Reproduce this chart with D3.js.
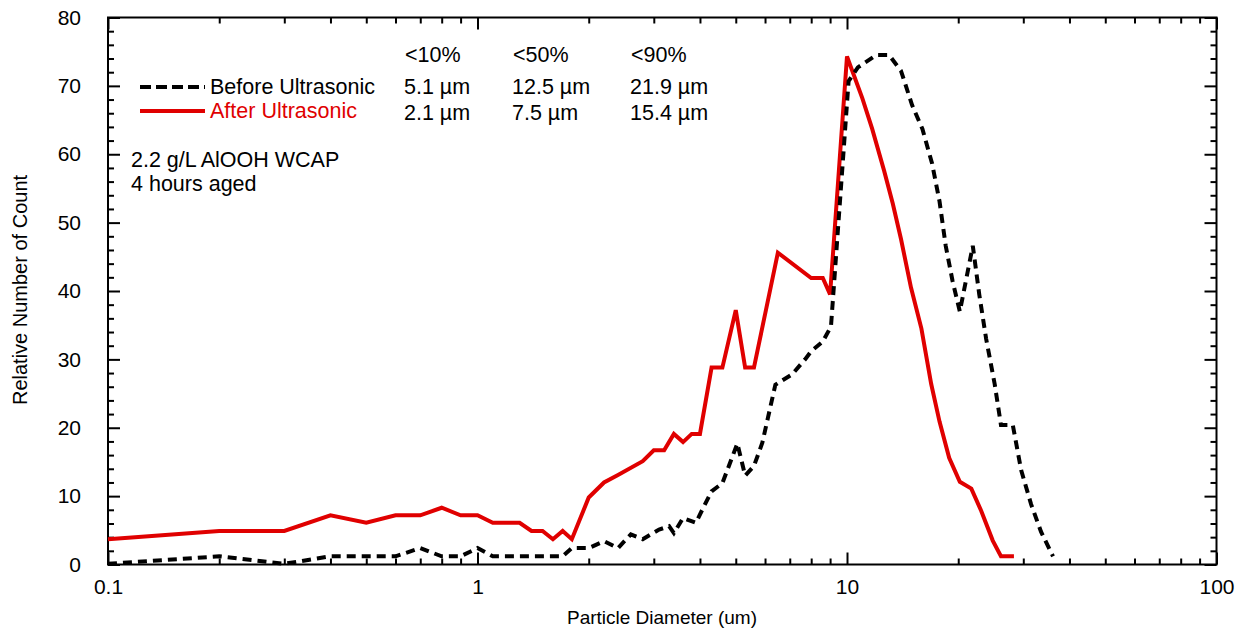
<!DOCTYPE html>
<html>
<head>
<meta charset="utf-8">
<title>Particle size distribution</title>
<script src="https://cdn.jsdelivr.net/npm/d3@7"></script>
<style>
  body { margin: 0; background: #fff; }
  svg text { font-family: "Liberation Sans", Arial, sans-serif; fill: #000; }
</style>
</head>
<body>
<div id="chart"></div>
<script>
// particle diameter (um) and relative count
var beforeX = [0.1, 0.2, 0.3, 0.4, 0.6, 0.7, 0.8, 0.9, 1.0, 1.1, 1.7, 1.8, 2.0, 2.2, 2.4, 2.6, 2.8, 3.1, 3.3, 3.4, 3.6, 3.9, 4.1, 4.3, 4.6, 5.05, 5.3, 5.6, 5.9, 6.4, 7.1, 7.7, 8.0, 8.6, 9.05, 10.1, 10.7, 12.0, 13.0, 14.0, 15.0, 16.0, 17.0, 17.8, 18.5, 19.3, 20.2, 21.9, 22.8, 23.8, 25.1, 26.1, 28.1, 29.6, 31.5, 33.5, 36.1];
var beforeY = [0.1, 1.2, 0.1, 1.2, 1.2, 2.4, 1.2, 1.2, 2.4, 1.2, 1.2, 2.4, 2.4, 3.4, 2.4, 4.4, 3.7, 5.1, 5.6, 4.6, 6.8, 6.1, 8.5, 10.7, 11.9, 17.7, 13.0, 14.4, 17.8, 26.3, 27.8, 30.0, 31.2, 32.6, 34.8, 70.7, 72.7, 74.5, 74.5, 72.2, 67.2, 63.7, 58.6, 53.1, 46.6, 41.5, 37.0, 46.6, 39.5, 33.0, 26.4, 20.4, 20.4, 13.8, 8.8, 4.8, 1.2];

var afterX = [0.1, 0.2, 0.3, 0.4, 0.5, 0.6, 0.7, 0.8, 0.9, 1.0, 1.1, 1.3, 1.4, 1.5, 1.6, 1.7, 1.8, 2.0, 2.2, 2.4, 2.8, 3.0, 3.2, 3.4, 3.6, 3.8, 4.0, 4.3, 4.6, 5.0, 5.3, 5.6, 6.5, 8.0, 8.6, 9.0, 10.0, 11.0, 11.7, 12.6, 13.3, 14.0, 14.9, 15.9, 16.9, 17.8, 18.9, 20.2, 21.7, 23.1, 24.8, 26.1, 28.3];
var afterY = [3.7, 4.9, 4.9, 7.2, 6.1, 7.2, 7.2, 8.3, 7.2, 7.2, 6.1, 6.1, 4.9, 4.9, 3.7, 4.9, 3.7, 9.8, 12.0, 13.1, 15.1, 16.7, 16.7, 19.1, 17.9, 19.1, 19.1, 28.8, 28.8, 37.2, 28.8, 28.8, 45.6, 41.9, 41.9, 39.5, 74.3, 68.2, 63.7, 57.6, 52.8, 47.6, 40.5, 34.5, 26.4, 20.9, 15.6, 12.1, 11.1, 7.8, 3.5, 1.2, 1.2];

var xTicks = [0.1, 1, 10, 100];
var xTickLabels = ["0.1", "1", "10", "100"];
var yTicks = [0, 10, 20, 30, 40, 50, 60, 70, 80];

var pctHeads = ["<10%", "<50%", "<90%"];
var beforePct = ["5.1 \u00b5m", "12.5 \u00b5m", "21.9 \u00b5m"];
var afterPct = ["2.1 \u00b5m", "7.5 \u00b5m", "15.4 \u00b5m"];
var noteLines = ["2.2 g/L AlOOH WCAP", "4 hours aged"];

var W = 1247, H = 632;
// plot box edges (window.top is reserved, so p-prefixed names)
var pLeft = 108, pRight = 1216.5, pTop = 17.5, pBottom = 564.5;

var svg = d3.select("#chart").append("svg")
    .attr("width", W).attr("height", H);

var x = d3.scaleLog().domain([0.1, 100]).range([pLeft, pRight]);
var y = d3.scaleLinear().domain([0, 80]).range([pBottom, pTop]);

// minor ticks
var xMinor = [];
[0.1, 1, 10].forEach(function (d) {
  for (var k = 2; k <= 9; k++) xMinor.push(d * k);
});
var yMinor = d3.range(0, 81, 2).filter(function (d) { return d % 10 !== 0; });

function addAxis(axis, tx, ty) {
  var g = svg.append("g").attr("transform", "translate(" + tx + "," + ty + ")").call(axis);
  g.select(".domain").remove();
  g.selectAll("line").attr("stroke", "#000").attr("stroke-width", 2);
  g.selectAll("text").attr("font-family", null).attr("font-size", 21);
  return g;
}

// bottom
addAxis(d3.axisBottom(x).tickValues(xTicks).tickSize(-12).tickPadding(15)
  .tickFormat(function (d, i) { return xTickLabels[i]; }), 0, pBottom);
addAxis(d3.axisBottom(x).tickValues(xMinor).tickSize(-6).tickFormat(""), 0, pBottom);
// top
addAxis(d3.axisTop(x).tickValues(xTicks).tickSize(-12).tickFormat(""), 0, pTop);
addAxis(d3.axisTop(x).tickValues(xMinor).tickSize(-6).tickFormat(""), 0, pTop);
// left
addAxis(d3.axisLeft(y).tickValues(yTicks).tickSize(-12).tickPadding(27), pLeft, 0);
addAxis(d3.axisLeft(y).tickValues(yMinor).tickSize(-6).tickFormat(""), pLeft, 0);
// right
addAxis(d3.axisRight(y).tickValues(yTicks).tickSize(-12).tickFormat(""), pRight, 0);
addAxis(d3.axisRight(y).tickValues(yMinor).tickSize(-6).tickFormat(""), pRight, 0);

svg.append("rect")
  .attr("x", pLeft).attr("y", pTop)
  .attr("width", pRight - pLeft).attr("height", pBottom - pTop)
  .attr("fill", "none").attr("stroke", "#000").attr("stroke-width", 2);

// curves
var line = d3.line()
  .x(function (d) { return x(d[0]); })
  .y(function (d) { return y(d[1]); });

var beforePts = d3.zip(beforeX, beforeY);
var afterPts = d3.zip(afterX, afterY);

svg.append("path").datum(afterPts)
  .attr("d", line)
  .attr("fill", "none").attr("stroke", "#e00000").attr("stroke-width", 4);

svg.append("path").datum(beforePts)
  .attr("d", line)
  .attr("fill", "none").attr("stroke", "#000").attr("stroke-width", 4)
  .attr("stroke-dasharray", "9,6");

// axis titles
svg.append("text")
  .attr("x", 662).attr("y", 624)
  .attr("text-anchor", "middle").attr("font-size", 19)
  .text("Particle Diameter (um)");

svg.append("text")
  .attr("transform", "translate(27,290) rotate(-90)")
  .attr("text-anchor", "middle").attr("font-size", 20)
  .text("Relative Number of Count");

// legend
var legY = [87, 111];
svg.append("line")
  .attr("x1", 140).attr("x2", 205).attr("y1", legY[0]).attr("y2", legY[0])
  .attr("stroke", "#000").attr("stroke-width", 4).attr("stroke-dasharray", "11,5");
svg.append("line")
  .attr("x1", 140).attr("x2", 205).attr("y1", legY[1]).attr("y2", legY[1])
  .attr("stroke", "#e00000").attr("stroke-width", 4);

var fs = 21.5;
svg.append("text").attr("x", 210).attr("y", legY[0] + 7).attr("font-size", fs)
  .text("Before Ultrasonic");
svg.append("text").attr("x", 210).attr("y", legY[1] + 7).attr("font-size", fs)
  .style("fill", "#e00000").text("After Ultrasonic");

var colX = [404, 512, 630];
pctHeads.forEach(function (t, i) {
  svg.append("text").attr("x", colX[i] + 1).attr("y", 62).attr("font-size", fs).text(t);
});
beforePct.forEach(function (t, i) {
  svg.append("text").attr("x", colX[i]).attr("y", legY[0] + 7).attr("font-size", fs).text(t);
});
afterPct.forEach(function (t, i) {
  svg.append("text").attr("x", colX[i]).attr("y", legY[1] + 9).attr("font-size", fs).text(t);
});

noteLines.forEach(function (t, i) {
  svg.append("text").attr("x", 131).attr("y", 167 + i * 24).attr("font-size", fs).text(t);
});
</script>
</body>
</html>
